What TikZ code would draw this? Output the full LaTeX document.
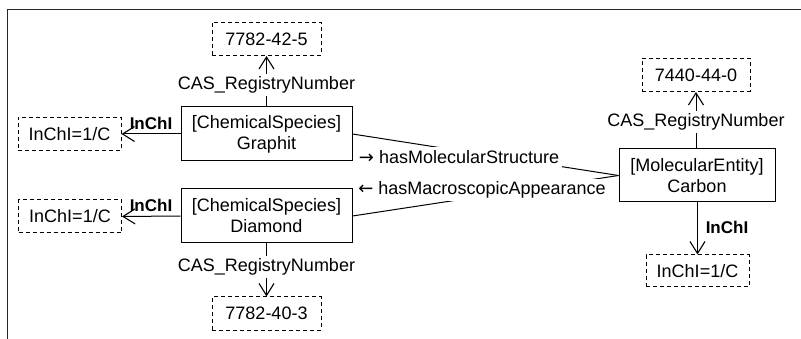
\documentclass[tikz,border=0pt]{standalone}
\usepackage{fontspec}
\setmainfont{Liberation Sans}
\newfontfamily\arrowfont{DejaVu Sans}
\usetikzlibrary{arrows.meta}
\begin{document}
\begin{tikzpicture}[x=1pt,y=-1pt,
  every node/.style={font=\fontsize{18}{21}\selectfont, inner sep=0pt},
  cls/.style={draw, line width=1pt, align=center, minimum width=171pt, minimum height=54pt},
  lit/.style={draw, line width=1pt, dash pattern=on 4pt off 3pt, minimum height=33pt},
  rel/.style={line width=1pt},
  arr/.style={rel, -{Straight Barb[length=12pt,width=15pt,line width=1.1pt]}},
  lbl/.style={fill=white, inner sep=3pt},
  blbl/.style={font=\fontsize{17}{20}\selectfont\bfseries}
]
\useasboundingbox (0,0) rectangle (801,339);
\draw[line width=1.5pt, black!85] (801,9.5) -- (7.5,9.5) -- (7.5,339);

\node[cls] (g) at (266.5,134) {[ChemicalSpecies]\\Graphit};
\node[cls] (d) at (266.5,216) {[ChemicalSpecies]\\Diamond};
\node[cls, minimum width=156pt, minimum height=53pt] (c) at (697,175.5) {[MolecularEntity]\\Carbon};

\node[lit, minimum width=109pt] (cas1) at (266.5,39) {7782-42-5};
\node[lit, minimum width=109pt] (cas2) at (266.5,313.5) {7782-40-3};
\node[lit, minimum width=108pt] (cas3) at (696,75) {7440-44-0};
\node[lit, minimum width=103pt] (ig) at (69.5,134) {InChI=1/C};
\node[lit, minimum width=103pt] (id) at (70,216.5) {InChI=1/C};
\node[lit, minimum width=103pt, minimum height=32pt] (ic) at (697.5,271) {InChI=1/C};

\draw[arr] (g.north) -- (cas1.south) node[lbl, at={(266.5,85)}] {CAS\_RegistryNumber};
\draw[arr] (d.south) -- (cas2.south |- cas2.north) node[lbl, at={(266.5,267)}] {CAS\_RegistryNumber};
\draw[arr] (c.north -| cas3.south) -- (cas3.south) node[lbl, at={(696,122)}] {CAS\_RegistryNumber};

\draw[arr] (g.west) -- (ig.east) node[blbl, at={(151,123)}] {InChI};
\draw[arr] (d.west) -- (id.east) node[blbl, at={(151,205)}] {InChI};
\draw[arr] (c.south -| ic.north) -- (ic.north) node[blbl, at={(727,227)}] {InChI};

\draw[rel] (g.east) -- (c.west) node[lbl, at={(459,157)}] {{\arrowfont\fontsize{18}{21}\selectfont →} hasMolecularStructure};
\draw[rel] (c.west) -- (d.east) node[lbl, at={(482,190)}] {{\arrowfont\fontsize{18}{21}\selectfont ←} hasMacroscopicAppearance};
\end{tikzpicture}
\end{document}
